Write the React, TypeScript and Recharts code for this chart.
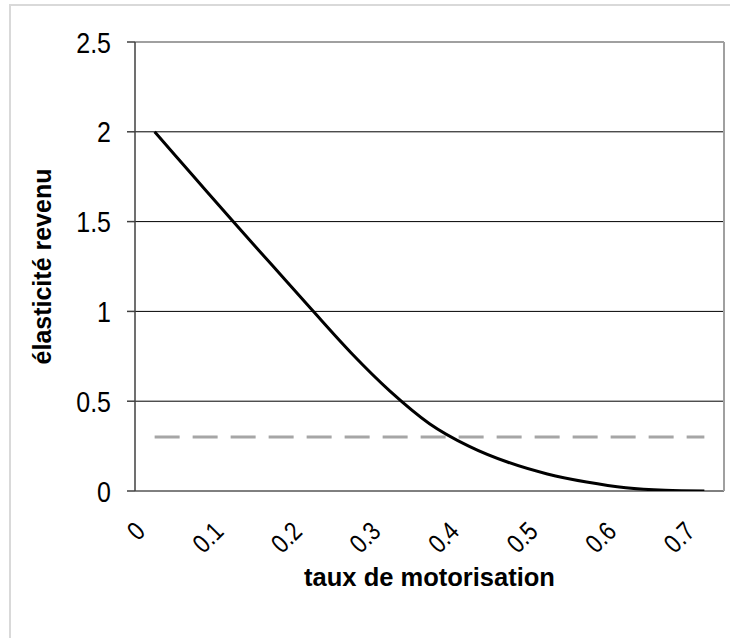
import React from 'react';
import { LineChart, Line, XAxis, YAxis, CartesianGrid, ReferenceLine } from 'recharts';

const categories = [0, 0.05, 0.1, 0.15, 0.2, 0.25, 0.3, 0.35, 0.4, 0.45, 0.5, 0.55, 0.6, 0.65, 0.7];
const elasticite = [2.0, 1.75, 1.5, 1.255, 1.01, 0.77, 0.555, 0.375, 0.25, 0.16, 0.095, 0.05, 0.018, 0.004, 0.0];
const seuil = [0.3, 0.3, 0.3, 0.3, 0.3, 0.3, 0.3, 0.3, 0.3, 0.3, 0.3, 0.3, 0.3, 0.3, 0.3];
const xLabelTicks = [0, 0.1, 0.2, 0.3, 0.4, 0.5, 0.6, 0.7];
const xBoundaryTicks = [-0.025, 0.025, 0.075, 0.125, 0.175, 0.225, 0.275, 0.325, 0.375, 0.425, 0.475, 0.525, 0.575, 0.625, 0.675, 0.725];
const xDomain = [-0.025, 0.725];
const yTicks = [0, 0.5, 1, 1.5, 2, 2.5];

const data = categories.map((x, i) => ({ x, e: elasticite[i], s: seuil[i] }));

const FONT = '"Liberation Sans", Arial, sans-serif';
const X_TICK_SIZE = 22;
const Y_TICK_SIZE = 25;
const TITLE_SIZE = 25;
const X_STRETCH = 1.2;
const Y_STRETCH = 1.17;

const XLabelTick = (props: any) => {
  const { x, y, payload } = props;
  return (
    <g transform={`translate(${x - 8},${y + 42}) rotate(-45) scale(1,${X_STRETCH})`}>
      <text x={0} y={0} textAnchor="end" fontSize={X_TICK_SIZE} fill="#000" fontFamily={FONT}>
        {String(payload.value)}
      </text>
    </g>
  );
};

const YLabelTick = (props: any) => {
  const { x, y, payload } = props;
  return (
    <g transform={`translate(${x},${y}) scale(1,${Y_STRETCH})`}>
      <text x={0} y={0} dy="0.36em" textAnchor="end" fontSize={Y_TICK_SIZE} fill="#000" fontFamily={FONT}>
        {String(payload.value)}
      </text>
    </g>
  );
};

const YTitle = (props: any) => {
  const vb = props.viewBox || {};
  const cx = vb.x + 42;
  const cy = vb.y + vb.height / 2;
  return (
    <text x={cx} y={cy} transform={`rotate(-90, ${cx}, ${cy})`} textAnchor="middle" dominantBaseline="central" fontSize={TITLE_SIZE} fontWeight="bold" fill="#000" fontFamily={FONT}>
      élasticité revenu
    </text>
  );
};

const XTitle = (props: any) => {
  const vb = props.viewBox || {};
  const cx = vb.x + vb.width / 2;
  const cy = vb.y + 86;
  return (
    <text x={cx} y={cy} textAnchor="middle" dominantBaseline="central" fontSize={25.5} fontWeight="bold" fill="#000" fontFamily={FONT}>
      taux de motorisation
    </text>
  );
};

export default function App() {
  return (
    <div style={{ position: 'absolute', left: 0, top: 0, width: 730, height: 638, overflow: 'hidden', background: '#fff' }}>
      <div style={{ position: 'absolute', left: 9, top: 4, width: 760, height: 700, border: '2px solid #d9d9d9', boxSizing: 'border-box' }} />
      <div style={{ position: 'absolute', left: 0, top: 0 }}>
        <LineChart width={730} height={638} data={data} margin={{ top: 42, right: 6, bottom: 0, left: 0 }}>
          <CartesianGrid vertical={false} stroke="#000" strokeWidth={1} yAxisId="y" xAxisId="marks" />
          <XAxis
            xAxisId="marks"
            dataKey="x"
            type="number"
            domain={xDomain}
            ticks={xBoundaryTicks}
            interval={0}
            height={0}
            tick={false}
            tickSize={7}
            tickLine={{ stroke: '#404040', strokeWidth: 1.5 }}
            axisLine={{ stroke: '#404040', strokeWidth: 1.5 }}
            allowDataOverflow
          />
          <XAxis
            xAxisId="labels"
            dataKey="x"
            type="number"
            domain={xDomain}
            ticks={xLabelTicks}
            interval={0}
            height={147}
            tickSize={0}
            tickMargin={0}
            tickLine={false}
            axisLine={false}
            tick={<XLabelTick />}
            label={<XTitle />}
            allowDataOverflow
          />
          <YAxis
            yAxisId="y"
            type="number"
            domain={[0, 2.5]}
            ticks={yTicks}
            interval={0}
            width={135}
            tickSize={8}
            tickMargin={16}
            tickLine={{ stroke: '#404040', strokeWidth: 1.5 }}
            axisLine={{ stroke: '#404040', strokeWidth: 1.5 }}
            tick={<YLabelTick />}
            label={<YTitle />}
            allowDataOverflow
          />
          <ReferenceLine yAxisId="y" xAxisId="marks" y={2.5} stroke="#a0a0a0" strokeWidth={2} />
          <ReferenceLine yAxisId="y" xAxisId="marks" x={0.725} stroke="#a0a0a0" strokeWidth={2} />
          <Line
            yAxisId="y"
            xAxisId="labels"
            dataKey="s"
            type="linear"
            stroke="#a6a6a6"
            strokeWidth={3}
            strokeDasharray="25 13"
            dot={false}
            activeDot={false}
            isAnimationActive={false}
          />
          <Line
            yAxisId="y"
            xAxisId="labels"
            dataKey="e"
            type="monotone"
            stroke="#000"
            strokeWidth={3}
            dot={false}
            activeDot={false}
            isAnimationActive={false}
          />
        </LineChart>
      </div>
    </div>
  );
}
